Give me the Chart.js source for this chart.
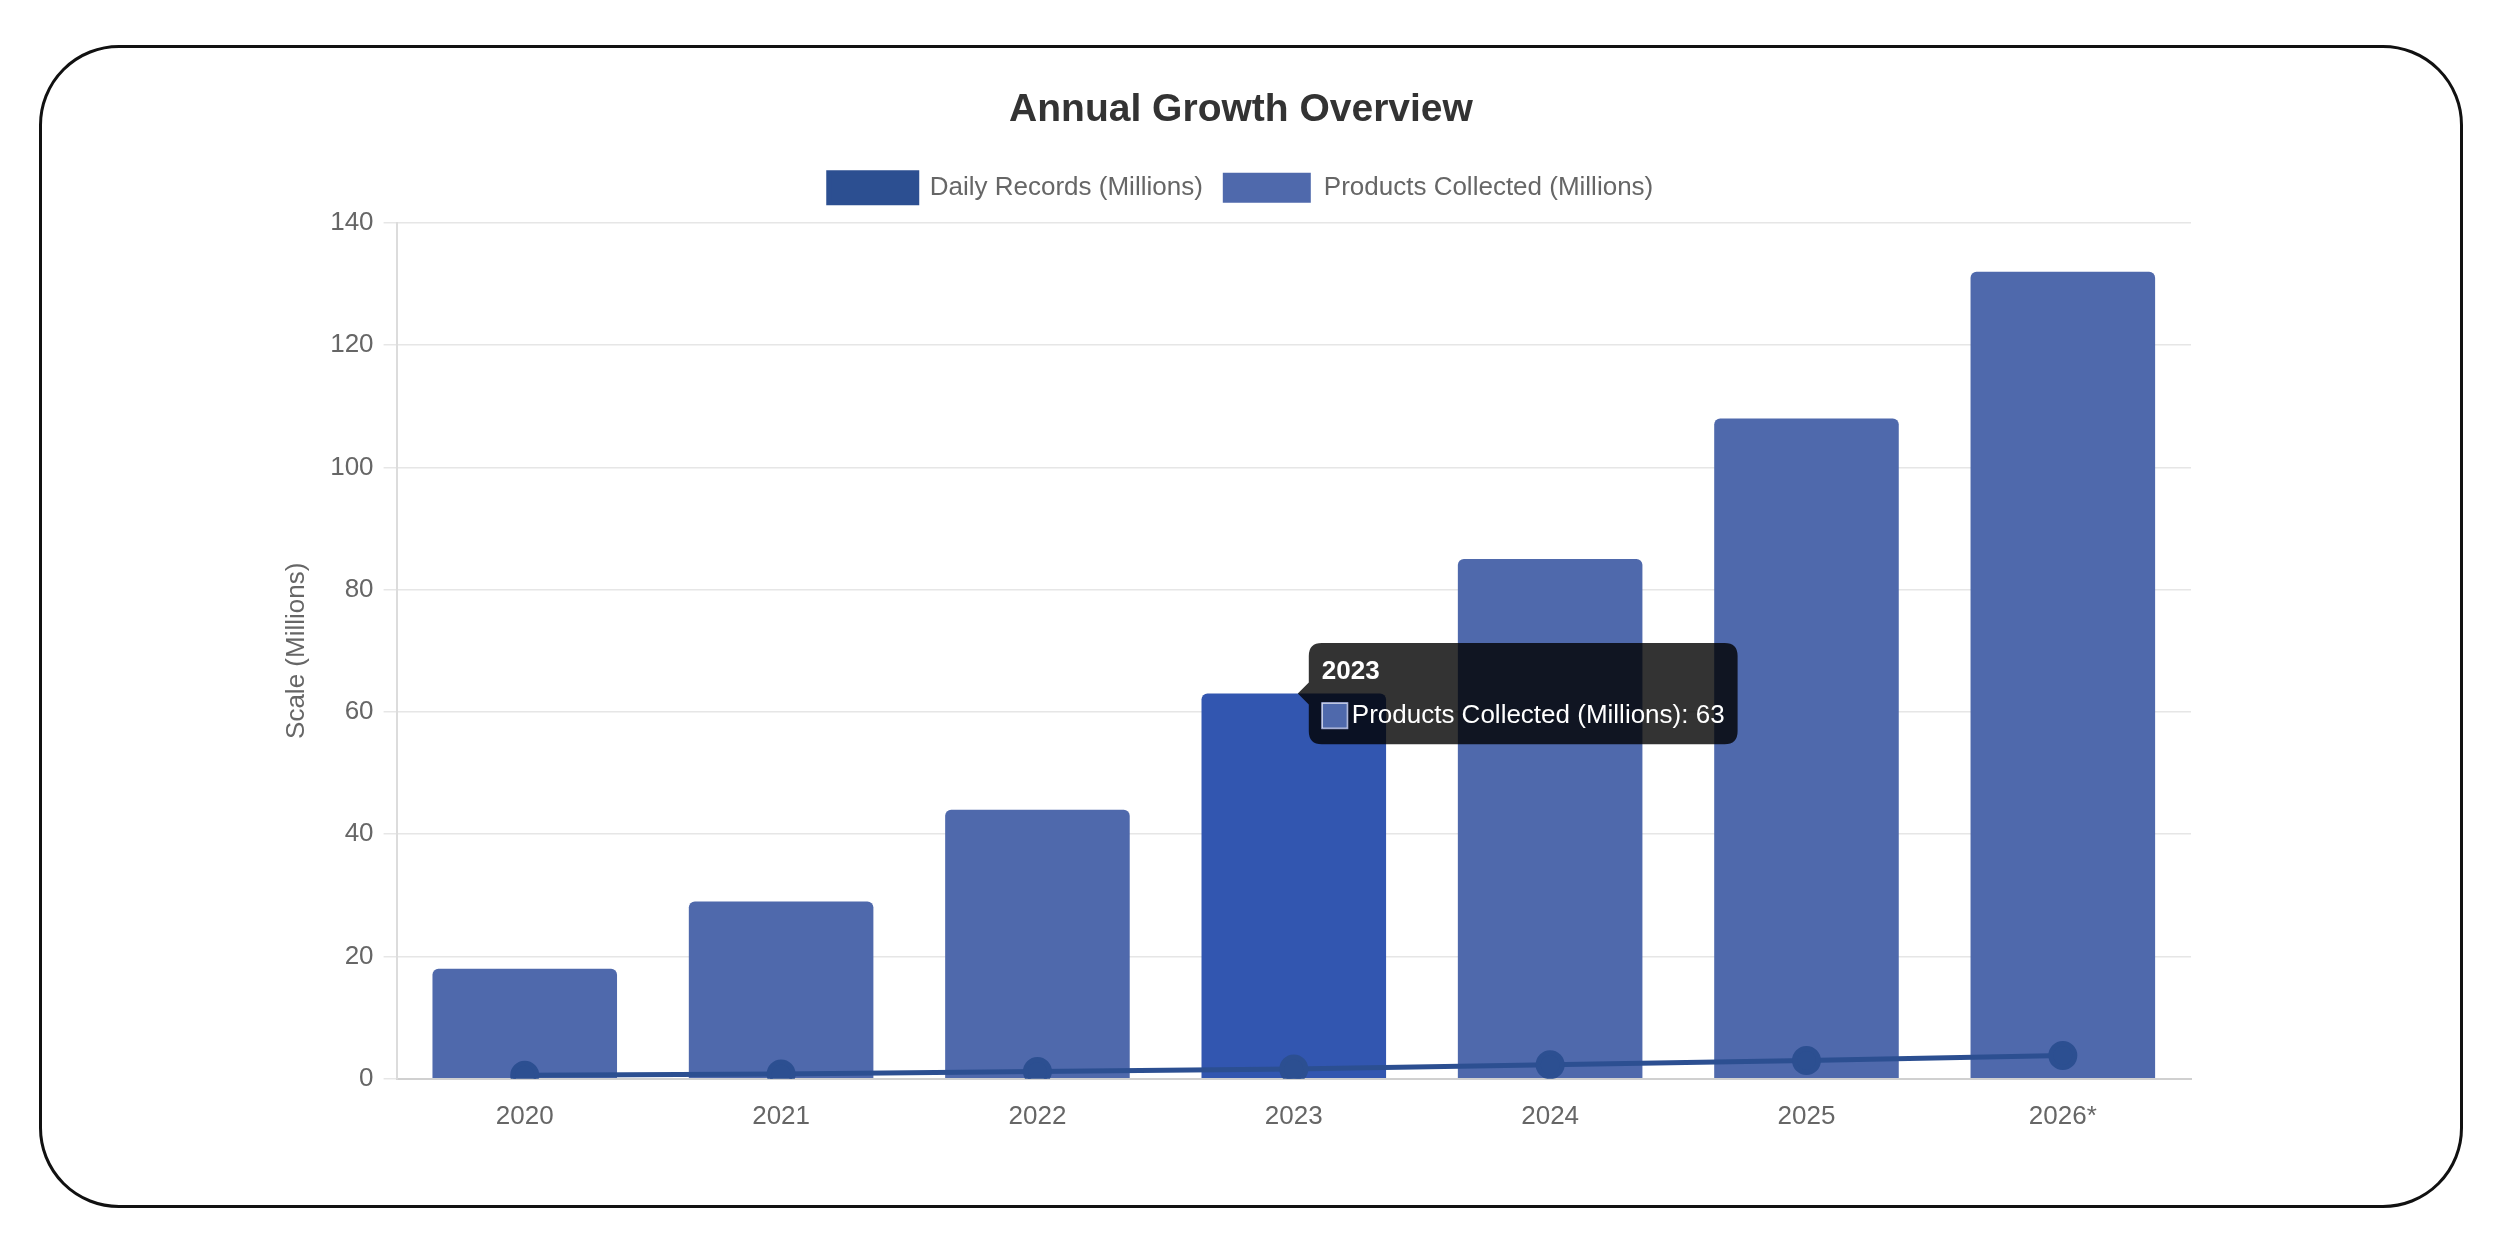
<!DOCTYPE html>
<html>
<head>
<meta charset="utf-8">
<title>Annual Growth Overview</title>
<script src="https://cdn.jsdelivr.net/npm/chart.js@4.4.0/dist/chart.umd.min.js"></script>
<style>
    html, body {
        margin: 0;
        padding: 0;
        width: 2497px;
        height: 1240px;
        background: #ffffff;
        overflow: hidden;
    }
    .frame {
        position: absolute;
        left: 39px;
        top: 45px;
        width: 2424px;
        height: 1163px;
        box-sizing: border-box;
        border: 3px solid #111111;
        border-radius: 80px;
    }
    .chart-box {
        position: absolute;
        left: 273px;
        top: 66px;
        width: 1951px;
        height: 1072px;
    }
</style>
</head>
<body>
<div class="frame"></div>
<div class="chart-box">
    <canvas id="growthChart"></canvas>
</div>
<script>
const years = ['2020', '2021', '2022', '2023', '2024', '2025', '2026*'];
const dailyRecords = [0.6, 0.8, 1.2, 1.6, 2.3, 3.0, 3.8];
const productsCollected = [18, 29, 44, 63, 85, 108, 132];
const yMax = 140;
const yStep = 20;

document.addEventListener('DOMContentLoaded', function () {
    const canvas = document.getElementById('growthChart');
    if (!canvas) {
        console.error('Canvas "growthChart" not found.');
        return;
    }

    const fontFamily = '"Liberation Sans", Arial, Helvetica, sans-serif';

    // more room under the legend, and title/legend centred a little further right
    const headerTweaks = {
        id: 'headerTweaks',
        beforeInit: function (chart) {
            const originalFit = chart.legend.fit;
            chart.legend.fit = function () {
                originalFit.bind(chart.legend)();
                this.height += 10;
            };
        },
        afterLayout: function (chart) {
            [chart.titleBlock, chart.legend].forEach(function (block) {
                if (block) {
                    block.left += 9;
                    block.right += 9;
                }
            });
        }
    };

    const chart = new Chart(canvas.getContext('2d'), {
        type: 'bar',
        data: {
            labels: years,
            datasets: [{
                type: 'line',
                label: 'Daily Records (Millions)',
                data: dailyRecords,
                borderColor: '#2C4F91',
                backgroundColor: '#2C4F91',
                borderWidth: 5,
                pointRadius: 12,
                pointHoverRadius: 12,
                pointBackgroundColor: '#2C4F91',
                pointBorderColor: '#2C4F91',
                tension: 0,
                fill: false
            }, {
                label: 'Products Collected (Millions)',
                data: productsCollected,
                backgroundColor: '#4F69AC',
                borderColor: '#A3ADDB',
                borderWidth: 0,
                borderRadius: 6
            }]
        },
        options: {
            responsive: true,
            maintainAspectRatio: false,
            animation: false,
            layout: {
                padding: { right: 33 }
            },
            scales: {
                x: {
                    grid: { display: false, tickLength: 16 },
                    border: { color: '#d0d0d0', width: 2 },
                    ticks: {
                        color: '#666666',
                        padding: 6,
                        font: { family: fontFamily, size: 26 }
                    }
                },
                y: {
                    min: 0,
                    max: yMax,
                    grid: { color: '#e6e6e6', lineWidth: 1.5, tickLength: 13 },
                    border: { color: '#dcdcdc', width: 2 },
                    ticks: {
                        stepSize: yStep,
                        color: '#666666',
                        padding: 10,
                        font: { family: fontFamily, size: 26 }
                    },
                    title: {
                        display: true,
                        text: 'Scale (Millions)',
                        color: '#666666',
                        padding: 8,
                        font: { family: fontFamily, size: 26 }
                    }
                }
            },
            plugins: {
                title: {
                    display: true,
                    text: 'Annual Growth Overview',
                    color: '#333333',
                    padding: { top: 21, bottom: 19 },
                    font: { family: fontFamily, size: 39, weight: 'bold' }
                },
                legend: {
                    labels: {
                        color: '#666666',
                        boxWidth: 88,
                        boxHeight: 30,
                        padding: 20,
                        font: { family: fontFamily, size: 26 }
                    }
                },
                tooltip: {
                    xAlign: 'left',
                    yAlign: 'center',
                    backgroundColor: 'rgba(0, 0, 0, 0.8)',
                    padding: 13,
                    caretSize: 11,
                    caretPadding: 4,
                    cornerRadius: 13,
                    titleMarginBottom: 13,
                    boxPadding: 2,
                    titleFont: { family: fontFamily, size: 26, weight: 'bold' },
                    bodyFont: { family: fontFamily, size: 26 }
                }
            }
        },
        plugins: [headerTweaks]
    });

    // hover state on the 2023 bar, as in the screenshot
    const active = [{ datasetIndex: 1, index: 3 }];
    chart.setActiveElements(active);
    chart.tooltip.setActiveElements(active, { x: 0, y: 0 });
    chart.update();
});
</script>
</body>
</html>
